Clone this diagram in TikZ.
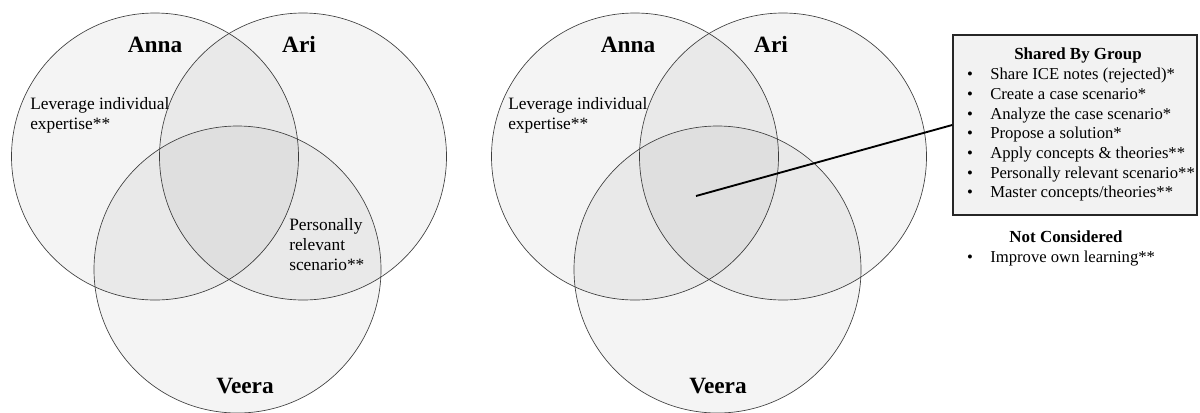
\documentclass[tikz,border=0pt]{standalone}
\usepackage{fontspec}
\setmainfont{Liberation Serif}
\begin{document}
\begin{tikzpicture}[x=0.75pt,y=-0.75pt,
  venn/.style={circle, draw=black!75, line width=0.5pt, fill=black, fill opacity=0.045, minimum size=215.25pt, inner sep=0pt},
  who/.style={font=\fontsize{17.5}{20}\selectfont\bfseries, inner sep=0pt, anchor=base},
  txt/.style={font=\fontsize{13}{15}\selectfont, inner sep=0pt, anchor=base west},
  itm/.style={font=\fontsize{12.5}{15}\selectfont, inner sep=0pt, anchor=base west},
  hdr/.style={font=\fontsize{12.7}{15}\selectfont\bfseries, inner sep=0pt, anchor=base},
  bul/.style={font=\fontsize{12.5}{15}\selectfont, inner sep=0pt, anchor=base},
  listbox/.style={rectangle, draw=black!85, line width=1.2pt, fill=black!5, minimum width=183pt, minimum height=135pt, inner sep=0pt},
  link/.style={draw=black, line width=1.4pt}]
\useasboundingbox (0,0) rectangle (1200,412);
% ---------- left diagram ----------
\node[venn] (annaL) at (155,156.5) {};
\node[venn] (ariL) at (303,156.5) {};
\node[venn] (veeraL) at (237.5,269.5) {};
\node[who] (annaLt) at (155,52) {Anna};
\node[who] (ariLt) at (299,52) {Ari};
\node[who] (veeraLt) at (245,393) {Veera};
\node[txt] (levL1) at (30,109) {Leverage individual};
\node[txt] (levL2) at (30,129) {expertise**};
\node[txt] (perL1) at (289,230) {Personally};
\node[txt] (perL2) at (289,250) {relevant};
\node[txt] (perL3) at (289,270) {scenario**};
% ---------- right diagram ----------
\node[venn] (annaR) at (635,156.5) {};
\node[venn] (ariR) at (783,156.5) {};
\node[venn] (veeraR) at (717.5,269.5) {};
\node[who] (annaRt) at (628,52) {Anna};
\node[who] (ariRt) at (771,52) {Ari};
\node[who] (veeraRt) at (718,393) {Veera};
\node[txt] (levR1) at (508,109) {Leverage individual};
\node[txt] (levR2) at (508,129) {expertise**};
% ---------- box ----------
\node[listbox] (box) at (1075,125) {};
\coordinate (hub) at (696,196);
\draw[link] (hub) -- (box.west);
\node[hdr] (shared) at (1078,59) {Shared By Group};
\node[bul] (b1) at (970,79) {•};
\node[itm] (i1) at (990,79) {Share ICE notes (rejected)*};
\node[bul] (b2) at (970,99) {•};
\node[itm] (i2) at (990,99) {Create a case scenario*};
\node[bul] (b3) at (970,119) {•};
\node[itm] (i3) at (990,119) {Analyze the case scenario*};
\node[bul] (b4) at (970,138.5) {•};
\node[itm] (i4) at (990,138.5) {Propose a solution*};
\node[bul] (b5) at (970,158.5) {•};
\node[itm] (i5) at (990,158.5) {Apply concepts \& theories**};
\node[bul] (b6) at (970,178) {•};
\node[itm] (i6) at (990,178) {Personally relevant scenario**};
\node[bul] (b7) at (970,197.5) {•};
\node[itm] (i7) at (990,197.5) {Master concepts/theories**};
\node[hdr] (notc) at (1066,242) {Not Considered};
\node[bul] (b8) at (970,262) {•};
\node[itm] (i8) at (990,262) {Improve own learning**};
\end{tikzpicture}
\end{document}
